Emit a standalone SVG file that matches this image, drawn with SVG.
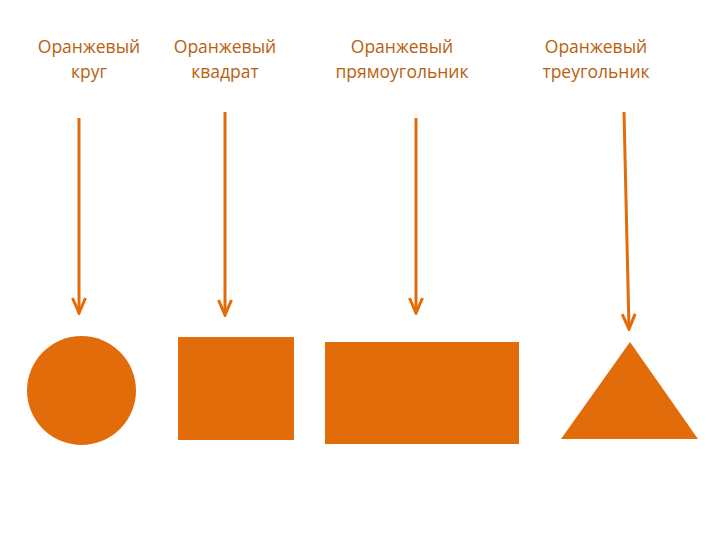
<svg xmlns="http://www.w3.org/2000/svg" width="720" height="540" viewBox="0 0 720 540">
<style>
.lbl{font-family:"Open Sans","Liberation Sans",sans-serif;font-size:17.5px;fill:#b8620f;text-anchor:middle}
.shape{fill:#e36c0a}
.conn{stroke:#e36c0a;stroke-width:3;fill:none;marker-end:url(#ah)}
</style>
<defs>
<marker id="ah" markerUnits="userSpaceOnUse" markerWidth="20" markerHeight="16" refX="18" refY="8" orient="auto" viewBox="0 0 20 16">
<path d="M3,1.5 L18,8 L3,14.5" fill="none" stroke="#e36c0a" stroke-width="3" stroke-linejoin="miter"/>
</marker>
</defs>
<rect width="720" height="540" fill="#fff"/>
<g id="label-circle"><text class="lbl" x="89" y="53">Оранжевый</text><text class="lbl" x="89" y="78">круг</text></g>
<g id="label-square"><text class="lbl" x="225" y="53">Оранжевый</text><text class="lbl" x="225" y="78">квадрат</text></g>
<g id="label-rect"><text class="lbl" x="402" y="53">Оранжевый</text><text class="lbl" x="402" y="78">прямоугольник</text></g>
<g id="label-triangle"><text class="lbl" x="596" y="53">Оранжевый</text><text class="lbl" x="596" y="78">треугольник</text></g>
<g id="connectors">
<path class="conn" d="M79,118 L79,313"/>
<path class="conn" d="M225,112 L225,315"/>
<path class="conn" d="M416,118 L416,313"/>
<path class="conn" d="M624,112 L629,329"/>
</g>
<g id="circle"><circle class="shape" cx="81.5" cy="390.5" r="54.5"/></g>
<g id="square"><rect class="shape" x="178" y="337" width="116" height="103"/></g>
<g id="rectangle"><rect class="shape" x="325" y="342" width="194" height="102"/></g>
<g id="triangle"><polygon class="shape" points="630,342 698,439 561,439"/></g>
</svg>
